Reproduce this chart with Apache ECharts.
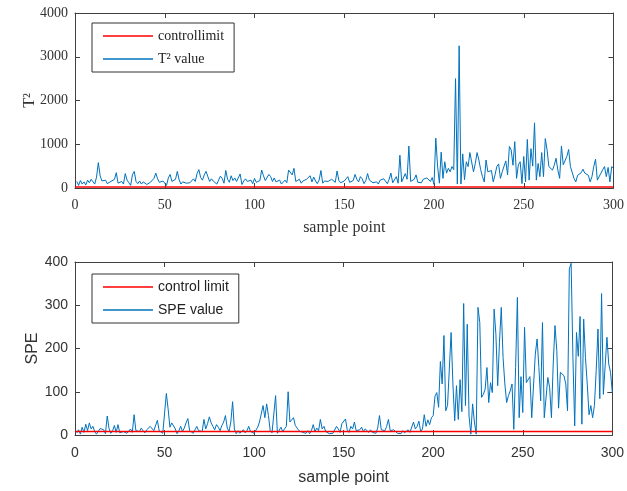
<!DOCTYPE html>
<html>
<head>
<meta charset="utf-8">
<script src="https://cdn.jsdelivr.net/npm/echarts@6/dist/echarts.min.js"></script>
<style>
  html, body { margin: 0; padding: 0; background: #fff; }
  #chart { width: 627px; height: 491px; }
</style>
</head>
<body>
<div id="chart"></div>
<script>
// T2 statistic, samples 1..300
var t2Values = [
  150, 60, 170, 90, 140, 70, 180, 120, 200, 160, 90, 250, 580, 280, 160, 120, 180, 100, 90, 150,
  120, 200, 350, 110, 80, 150, 90, 330, 180, 120, 60, 300, 380, 150, 100, 160, 90, 140, 120, 80,
  110, 130, 170, 220, 340, 210, 130, 100, 160, 190, 60, 230, 310, 150, 120, 200, 380, 190, 90, 140,
  180, 110, 150, 120, 80, 210, 150, 330, 420, 240, 180, 300, 380, 260, 150, 210, 160, 120, 90, 180,
  270, 220, 110, 400, 200, 130, 280, 170, 230, 150, 110, 320, 80, 160, 210, 150, 110, 180, 100, 220,
  130, 90, 170, 410, 280, 170, 130, 310, 260, 150, 230, 140, 100, 180, 90, 60, 180, 120, 410, 380,
  300, 450, 150, 140, 200, 110, 160, 120, 200, 180, 280, 140, 250, 160, 100, 180, 400, 110, 160, 130,
  150, 140, 200, 160, 130, 390, 170, 120, 110, 160, 200, 260, 130, 100, 170, 310, 200, 140, 260, 210,
  100, 170, 330, 180, 140, 120, 160, 140, 90, 180, 140, 210, 180, 100, 200, 340, 120, 90, 260, 110,
  750, 140, 110, 330, 200, 960, 150, 170, 200, 300, 130, 90, 120, 200, 170, 230, 210, 150, 240, 80,
  1140, 500, 110, 820, 220, 600, 340, 450, 370, 490, 420, 2500, 90, 3250, 90, 780, 190, 600, 490, 810,
  850, 370, 560, 810, 640, 420, 260, 140, 640, 370, 410, 400, 140, 300, 490, 550, 220, 370, 410, 620,
  300, 950, 870, 520, 1060, 220, 530, 600, 100, 720, 140, 1110, 180, 900, 500, 1490, 180, 560, 260, 810,
  260, 1130, 870, 490, 450, 410, 520, 680, 410, 220, 960, 530, 570, 720, 880, 490, 490, 220, 140, 290,
  260, 350, 430, 340, 300, 290, 140, 260, 490, 660, 180, 200, 340, 420, 490, 260, 470, 140, 490, 450
];

// SPE statistic, samples 1..300
var speValues = [
  5, 12, 2, 18, 6, 25, 10, 28, 14, 20, 8, 2, 6, 15, 19, 12, 3, 44, 15, 4,
  10, 22, 6, 24, 5, 3, 8, 12, 4, 9, 14, 6, 47, 10, 12, 8, 16, 10, 5, 12,
  14, 20, 18, 10, 6, 34, 10, 12, 4, 3, 96, 60, 18, 28, 32, 14, 3, 10, 20, 8,
  16, 28, 38, 10, 6, 4, 12, 20, 10, 6, 8, 36, 14, 26, 42, 28, 20, 12, 24, 18,
  10, 22, 30, 45, 16, 8, 30, 77, 14, 3, 10, 4, 8, 12, 5, 10, 20, 8, 12, 4,
  6, 18, 30, 28, 68, 40, 72, 45, 10, 5, 8, 91, 4, 6, 18, 8, 10, 20, 100, 30,
  30, 40, 22, 16, 10, 14, 6, 3, 4, 10, 3, 10, 24, 8, 16, 10, 36, 14, 20, 8,
  6, 3, 5, 4, 8, 20, 14, 6, 26, 22, 37, 12, 6, 20, 14, 30, 10, 6, 12, 18,
  8, 14, 10, 6, 12, 6, 10, 4, 16, 45, 12, 8, 10, 20, 36, 10, 6, 12, 8, 4,
  6, 3, 10, 5, 3, 12, 6, 10, 30, 14, 20, 32, 8, 14, 47, 20, 35, 24, 40, 45,
  90, 98, 64, 170, 118, 230, 56, 68, 66, 237, 118, 33, 114, 36, 128, 54, 304, 68, 256, 44,
  2, 72, 30, 2, 295, 260, 87, 94, 106, 156, 75, 121, 98, 291, 233, 114, 214, 295, 179, 118,
  75, 91, 102, 118, 13, 156, 318, 40, 135, 52, 249, 121, 121, 135, 40, 44, 187, 222, 156, 79,
  260, 40, 36, 133, 110, 40, 164, 253, 195, 62, 145, 145, 137, 118, 56, 384, 397, 179, 21, 237,
  182, 274, 25, 268, 179, 118, 47, 68, 40, 68, 149, 245, 84, 327, 94, 98, 226, 164, 145, 98
];

var t2Limit = 25;
var speLimit = 8;
var xRange = [0, 300];
var t2Ticks = [0, 4000, 1000];
var speTicks = [0, 400, 100];

function pairs(arr) {
  return arr.map(function(v, i) { return [i + 1, v]; });
}

var frame = '#404040';
var serif = '"Liberation Serif", "Times New Roman", serif';
var sans = '"Liberation Sans", Arial, sans-serif';

function plain(v) { return String(v); }

function xAxes(gridIndex, font, labelMargin, nameGap) {
  return [{
    type: 'value', gridIndex: gridIndex, position: 'bottom',
    min: xRange[0], max: xRange[1], interval: 50,
    name: 'sample point', nameLocation: 'middle', nameGap: nameGap,
    nameTextStyle: { fontFamily: font, fontSize: 16, color: '#333' },
    axisLine: { onZero: false, lineStyle: { color: frame, width: 1 } },
    axisTick: { inside: true, length: 5, lineStyle: { color: frame } },
    axisLabel: { fontFamily: font, fontSize: 14, color: '#333', margin: labelMargin, formatter: plain },
    splitLine: { show: false }
  }, {
    type: 'value', gridIndex: gridIndex, position: 'top',
    min: xRange[0], max: xRange[1], interval: 50,
    axisLine: { onZero: false, lineStyle: { color: frame, width: 1 } },
    axisTick: { inside: true, length: 5, lineStyle: { color: frame } },
    axisLabel: { show: false },
    splitLine: { show: false }
  }];
}

function yAxes(gridIndex, font, ticks, name, nameGap) {
  return [{
    type: 'value', gridIndex: gridIndex, position: 'left',
    min: ticks[0], max: ticks[1], interval: ticks[2],
    name: name, nameLocation: 'middle', nameGap: nameGap, nameMoveOverlap: false,
    nameTextStyle: { fontFamily: font, fontSize: 16, color: '#333' },
    axisLine: { show: true, onZero: false, lineStyle: { color: frame, width: 1 } },
    axisTick: { show: true, inside: true, length: 5, lineStyle: { color: frame } },
    axisLabel: { fontFamily: font, fontSize: 14, color: '#333', margin: 7, formatter: plain },
    splitLine: { show: false }
  }, {
    type: 'value', gridIndex: gridIndex, position: 'right',
    min: ticks[0], max: ticks[1], interval: ticks[2],
    axisLine: { show: true, onZero: false, lineStyle: { color: frame, width: 1 } },
    axisTick: { show: true, inside: true, length: 5, lineStyle: { color: frame } },
    axisLabel: { show: false },
    splitLine: { show: false }
  }];
}

function legendBox(top, font, names) {
  return {
    data: names, orient: 'vertical', left: 92, top: top,
    icon: 'rect', itemWidth: 50, itemHeight: 1.5, itemGap: 9,
    padding: [6, 10, 6, 11],
    backgroundColor: '#fff', borderColor: '#333', borderWidth: 1, borderRadius: 0,
    textStyle: { fontFamily: font, fontSize: 14, color: '#222' },
    selectedMode: false
  };
}

var chart = echarts.init(document.getElementById('chart'));

chart.setOption({
  animation: false,
  backgroundColor: '#fff',
  grid: [
    { left: 75, right: 12, top: 13, height: 175 },
    { left: 75, right: 12, top: 262, height: 173 }
  ],
  xAxis: xAxes(0, serif, 10, 32).concat(xAxes(1, sans, 11, 35)),
  yAxis: yAxes(0, serif, t2Ticks, 'T²', 37).concat(yAxes(1, sans, speTicks, 'SPE', 34)),
  legend: [
    legendBox(23, serif, ['controllimit', 'T² value']),
    legendBox(274, sans, ['control limit', 'SPE value'])
  ],
  series: [
    {
      name: 'controllimit', type: 'line', xAxisIndex: 0, yAxisIndex: 0,
      data: [[xRange[0], t2Limit], [xRange[1], t2Limit]],
      symbol: 'none', lineStyle: { color: '#ff0000', width: 1.5 }, itemStyle: { color: '#ff0000' }, z: 3
    },
    {
      name: 'T² value', type: 'line', xAxisIndex: 0, yAxisIndex: 0,
      data: pairs(t2Values),
      symbol: 'none', lineStyle: { color: '#0072bd', width: 1 }, itemStyle: { color: '#0072bd' }, z: 2
    },
    {
      name: 'control limit', type: 'line', xAxisIndex: 2, yAxisIndex: 2,
      data: [[xRange[0], speLimit], [xRange[1], speLimit]],
      symbol: 'none', lineStyle: { color: '#ff0000', width: 1.5 }, itemStyle: { color: '#ff0000' }, z: 3
    },
    {
      name: 'SPE value', type: 'line', xAxisIndex: 2, yAxisIndex: 2,
      data: pairs(speValues),
      symbol: 'none', lineStyle: { color: '#0072bd', width: 1 }, itemStyle: { color: '#0072bd' }, z: 2
    }
  ]
});
</script>
</body>
</html>
